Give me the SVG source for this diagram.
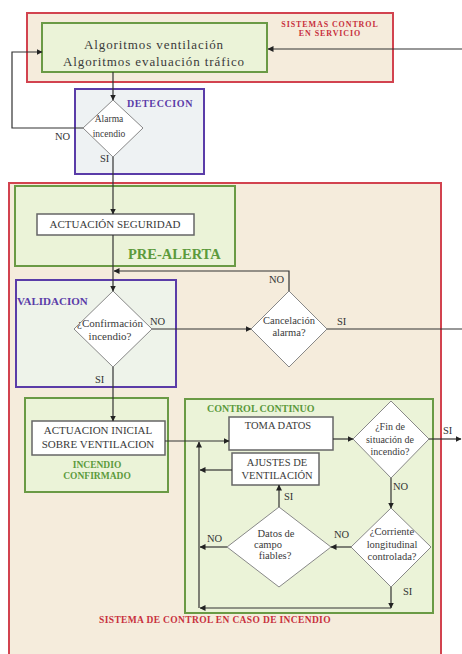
<svg xmlns="http://www.w3.org/2000/svg" width="462" height="654" viewBox="0 0 462 654">
<defs>
<marker id="ah" markerUnits="userSpaceOnUse" markerWidth="6" markerHeight="6" refX="5.5" refY="3" orient="auto"><path d="M0,0 L6,3 L0,6 z" fill="#222"/></marker>
<style>
.sys{fill:#f5ecdc;stroke:#d2434f;stroke-width:2}
.grn{fill:#ebf3d8;stroke:#6a9a45;stroke-width:2}
.pur{stroke:#5a3ca8;stroke-width:2}
.box{fill:#ffffff;stroke:#666;stroke-width:1.5}
.dia{fill:#ffffff;stroke:#888;stroke-width:1}
.t{font-family:"Liberation Serif","Times New Roman",serif;fill:#3a3a3a;text-anchor:middle}
.lb{font-family:"Liberation Serif","Times New Roman",serif;fill:#333;font-size:10.5px}
.red{font-family:"Liberation Serif","Times New Roman",serif;fill:#c8303c;font-weight:bold;text-anchor:middle}
.pt{font-family:"Liberation Serif","Times New Roman",serif;fill:#5a3ca8;font-weight:bold}
.gt{font-family:"Liberation Serif","Times New Roman",serif;fill:#5c9a3c;font-weight:bold}
.c{fill:none;stroke:#333;stroke-width:1.2;marker-end:url(#ah)}
.cn{fill:none;stroke:#333;stroke-width:1.2}
</style>
</defs>
<rect width="462" height="654" fill="#ffffff"/>

<g id="sistemas-servicio">
<rect class="sys" x="27" y="13" width="366" height="69"/>
<text class="red" font-size="8" letter-spacing="0.9" x="330" y="27">SISTEMAS CONTROL</text>
<text class="red" font-size="8" letter-spacing="0.9" x="330" y="35.5">EN SERVICIO</text>
</g>

<g id="sistema-incendio">
<rect class="sys" x="9" y="183" width="432" height="480"/>
<text class="red" font-size="9.5" letter-spacing="0.35" x="215" y="623">SISTEMA DE CONTROL EN CASO DE INCENDIO</text>
</g>

<g id="algoritmos">
<rect class="grn" x="42" y="23" width="225" height="49"/>
<text class="t" font-size="13" letter-spacing="0.9" x="154" y="49">Algoritmos ventilación</text>
<text class="t" font-size="13" letter-spacing="0.9" x="154" y="66">Algoritmos evaluación tráfico</text>
</g>

<g id="deteccion">
<rect class="pur" fill="#eef2f3" x="75" y="89" width="129" height="85"/>
<text class="pt" font-size="10" letter-spacing="0.6" x="127" y="107">DETECCION</text>
</g>

<g id="alarma">
<polygon class="dia" points="113,100 143,128 113,157 83,128"/>
<text class="t" font-size="9.5" x="109" y="122">Alarma</text>
<text class="t" font-size="9.5" x="109" y="137">incendio</text>
</g>

<g id="pre-alerta">
<rect class="grn" x="15" y="186" width="220" height="80"/>
<text class="gt" font-size="14.5" x="128" y="259">PRE-ALERTA</text>
</g>

<g id="actuacion-seguridad">
<rect class="box" x="37" y="214" width="157" height="21"/>
<text class="t" font-size="11" x="115" y="228">ACTUACIÓN SEGURIDAD</text>
</g>

<g id="validacion">
<rect class="pur" fill="#eef3ea" x="16" y="280" width="160" height="107"/>
<text class="pt" font-size="11" x="17" y="305">VALIDACION</text>
</g>

<g id="confirmacion">
<polygon class="dia" points="113,291 152,329 113,367 74,329"/>
<text class="t" font-size="11" x="110" y="327">¿Confirmación</text>
<text class="t" font-size="11" x="110" y="340">incendio?</text>
</g>

<g id="cancelacion">
<polygon class="dia" points="289,291 327,329 289,367 251,329"/>
<text class="t" font-size="10.5" x="289" y="324">Cancelación</text>
<text class="t" font-size="10.5" x="289" y="336">alarma?</text>
</g>

<g id="incendio-confirmado">
<rect class="grn" x="25" y="398" width="143" height="94"/>
<text class="gt" font-size="9.5" text-anchor="middle" x="97" y="468">INCENDIO</text>
<text class="gt" font-size="9.5" text-anchor="middle" x="97" y="479">CONFIRMADO</text>
</g>

<g id="actuacion-inicial">
<rect class="box" x="32" y="421" width="133" height="34"/>
<text class="t" font-size="11" x="98" y="434">ACTUACION INICIAL</text>
<text class="t" font-size="11" x="98" y="448">SOBRE VENTILACION</text>
</g>

<g id="control-continuo">
<rect class="grn" x="185" y="399" width="248" height="214"/>
<text class="gt" font-size="10" x="207" y="412">CONTROL CONTINUO</text>
</g>

<g id="toma-datos">
<rect class="box" x="229" y="417" width="104" height="33"/>
<text class="t" font-size="10.5" x="278" y="429">TOMA DATOS</text>
</g>

<g id="ajustes">
<rect class="box" x="232" y="453" width="87" height="32"/>
<text class="t" font-size="10.5" x="277" y="466">AJUSTES DE</text>
<text class="t" font-size="10.5" x="277" y="479">VENTILACIÓN</text>
</g>

<g id="fin-situacion">
<polygon class="dia" points="391,401 429,439 391,478 353,439"/>
<text class="t" font-size="10" x="390" y="430">¿Fin de</text>
<text class="t" font-size="10" x="390" y="443">situación de</text>
<text class="t" font-size="10" x="390" y="455">incendio?</text>
</g>

<g id="datos-campo">
<polygon class="dia" points="279,507 331,547 279,587 227,547"/>
<text class="t" font-size="10.5" x="276" y="537">Datos de</text>
<text class="t" font-size="10.5" x="268" y="548">campo</text>
<text class="t" font-size="10.5" x="275" y="559">fiables?</text>
</g>

<g id="corriente">
<polygon class="dia" points="391,508 431,547 391,587 351,547"/>
<text class="t" font-size="10.5" x="392" y="535">¿Corriente</text>
<text class="t" font-size="10.5" x="392" y="548">longitudinal</text>
<text class="t" font-size="10.5" x="392" y="560">controlada?</text>
</g>

<g id="connectors">
<path class="c" d="M462,49 L268,49"/>
<path class="c" d="M113,72 L113,100"/>
<path class="c" d="M83,128 L12,128 L12,52 L42,52"/>
<path class="c" d="M113,157 L113,214"/>
<path class="c" d="M113,235 L113,291"/>
<path class="c" d="M289,291 L289,271 L114,271"/>
<path class="c" d="M152,329 L251,329"/>
<path class="cn" d="M327,329 L462,329"/>
<path class="c" d="M113,367 L113,421"/>
<path class="c" d="M165,441 L229,441"/>
<path class="c" d="M333,439 L353,439"/>
<path class="c" d="M429,439 L461,439"/>
<path class="c" d="M391,478 L391,508"/>
<path class="c" d="M351,547 L331,547"/>
<path class="c" d="M279,507 L279,485"/>
<path class="c" d="M227,547 L200,547"/>
<path class="c" d="M232,470 L200,470"/>
<path class="c" d="M391,587 L391,608"/>
<path class="c" d="M391,608 L200,608"/>
<path class="c" d="M199,608 L199,442"/>
<text class="lb" x="55" y="140">NO</text>
<text class="lb" x="100" y="162">SI</text>
<text class="lb" x="269" y="283">NO</text>
<text class="lb" x="150" y="325">NO</text>
<text class="lb" x="337" y="325">SI</text>
<text class="lb" x="95" y="383">SI</text>
<text class="lb" x="443" y="434">SI</text>
<text class="lb" x="393" y="490">NO</text>
<text class="lb" x="284" y="500">SI</text>
<text class="lb" x="207" y="542">NO</text>
<text class="lb" x="334" y="538">NO</text>
<text class="lb" x="403" y="595">SI</text>
</g>
</svg>
